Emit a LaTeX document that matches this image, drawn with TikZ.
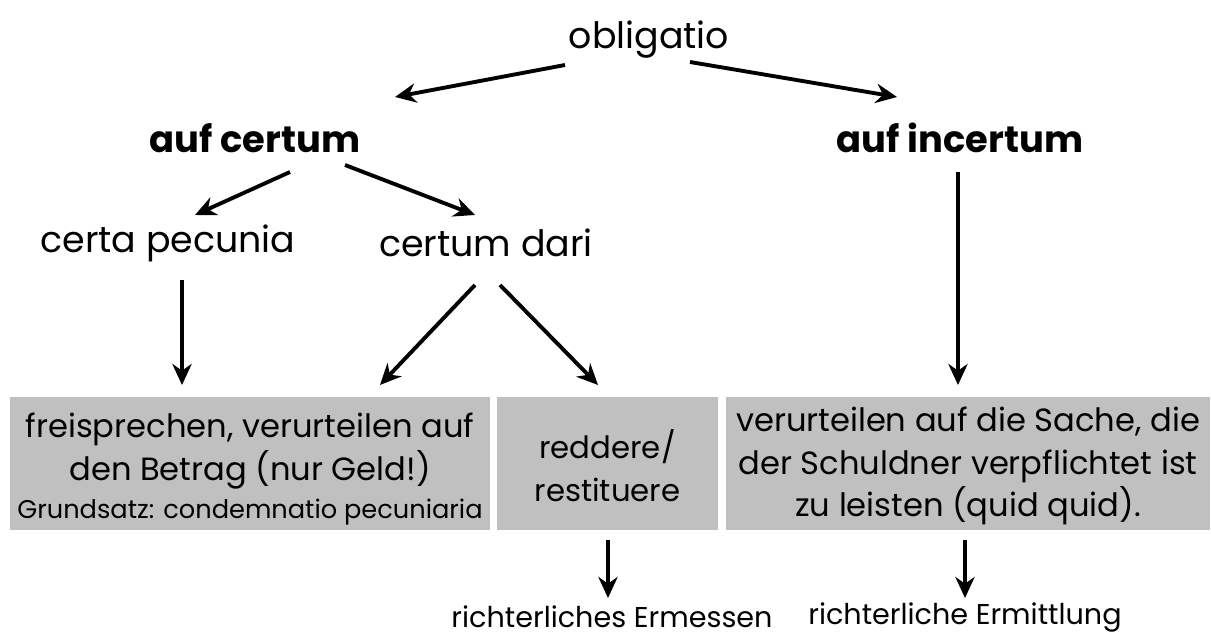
\documentclass[tikz,border=0pt]{standalone}
\usepackage{fontspec}
\setmainfont{Poppins}
\usetikzlibrary{arrows.meta,positioning}

\begin{document}
\begin{tikzpicture}[x=0.02cm,y=-0.02cm]
\tikzset{word/.style ={font=\fontsize{20.7}{24}\selectfont, inner sep=0pt},
  head/.style ={word, font=\fontsize{21}{24}\selectfont\bfseries},
  foot/.style ={word, font=\fontsize{16.3}{18}\selectfont},
  greybox/.style ={fill=boxgrey, inner sep=0pt, minimum height=2.66cm},
  boxtext/.style ={inner sep=0pt, align=center, font=\fontsize{18.3}{24.4}\selectfont},
  arr/.style ={line width=2.2pt, -{Stealth[length=12pt,width=11pt]}}}
\definecolor{boxgrey}{HTML}{C0C0C0}
\useasboundingbox (0,0) rectangle (1211,641);
% top of the tree
    \node[word] (obl) at (649,40) {obligatio};
    \node[head] (cert) at (255,138) {auf certum};
    \node[head] (incert) at (960,138) {auf incertum};
    \node[word] (pec) at (168,243) {certa pecunia};
    \node[word] (dari) at (486,243) {certum dari};
% the grey boxes
    \node[greybox, minimum width=9.6cm] (frei) at (250,463.5) {};
    \node[greybox, minimum width=4.42cm] (redd) at (607.5,463.5) {};
    \node[greybox, minimum width=9.68cm] (sache) at (968,463.5) {};
    \node[boxtext] (freitext) at (250,469)
      {freisprechen, verurteilen auf\\den Betrag (nur Geld!)\\[-3pt]
       {\fontsize{14.6}{15}\selectfont Grundsatz: condemnatio pecuniaria}};
    \node[boxtext, font=\fontsize{17.5}{24.4}\selectfont] (reddtext) at (607.5,466)
      {reddere/\\restituere};
    \node[boxtext] (sachetext) at (968,466)
      {verurteilen auf die Sache, die\\der Schuldner verpflichtet ist\\zu leisten (quid quid).};
    \node[foot] (erm) at (612,617) {richterliches Ermessen};
    \node[foot] (ermit) at (965,617) {richterliche Ermittlung};
% arrows
    \draw[arr] (565,65) -- (395,97);
    \draw[arr] (690,62) -- (897,97);
    \draw[arr] (290,172) -- (195,215);
    \draw[arr] (345,165) -- (475,215);
    \draw[arr] (182,280) -- (182,385);
    \draw[arr] (475,285) -- (380,385);
    \draw[arr] (500,285) -- (598,385);
    \draw[arr] (958,172) -- (958,385);
    \draw[arr] (608,540) -- (608,598);
    \draw[arr] (965,540) -- (965,598);
\end{tikzpicture}
\end{document}
